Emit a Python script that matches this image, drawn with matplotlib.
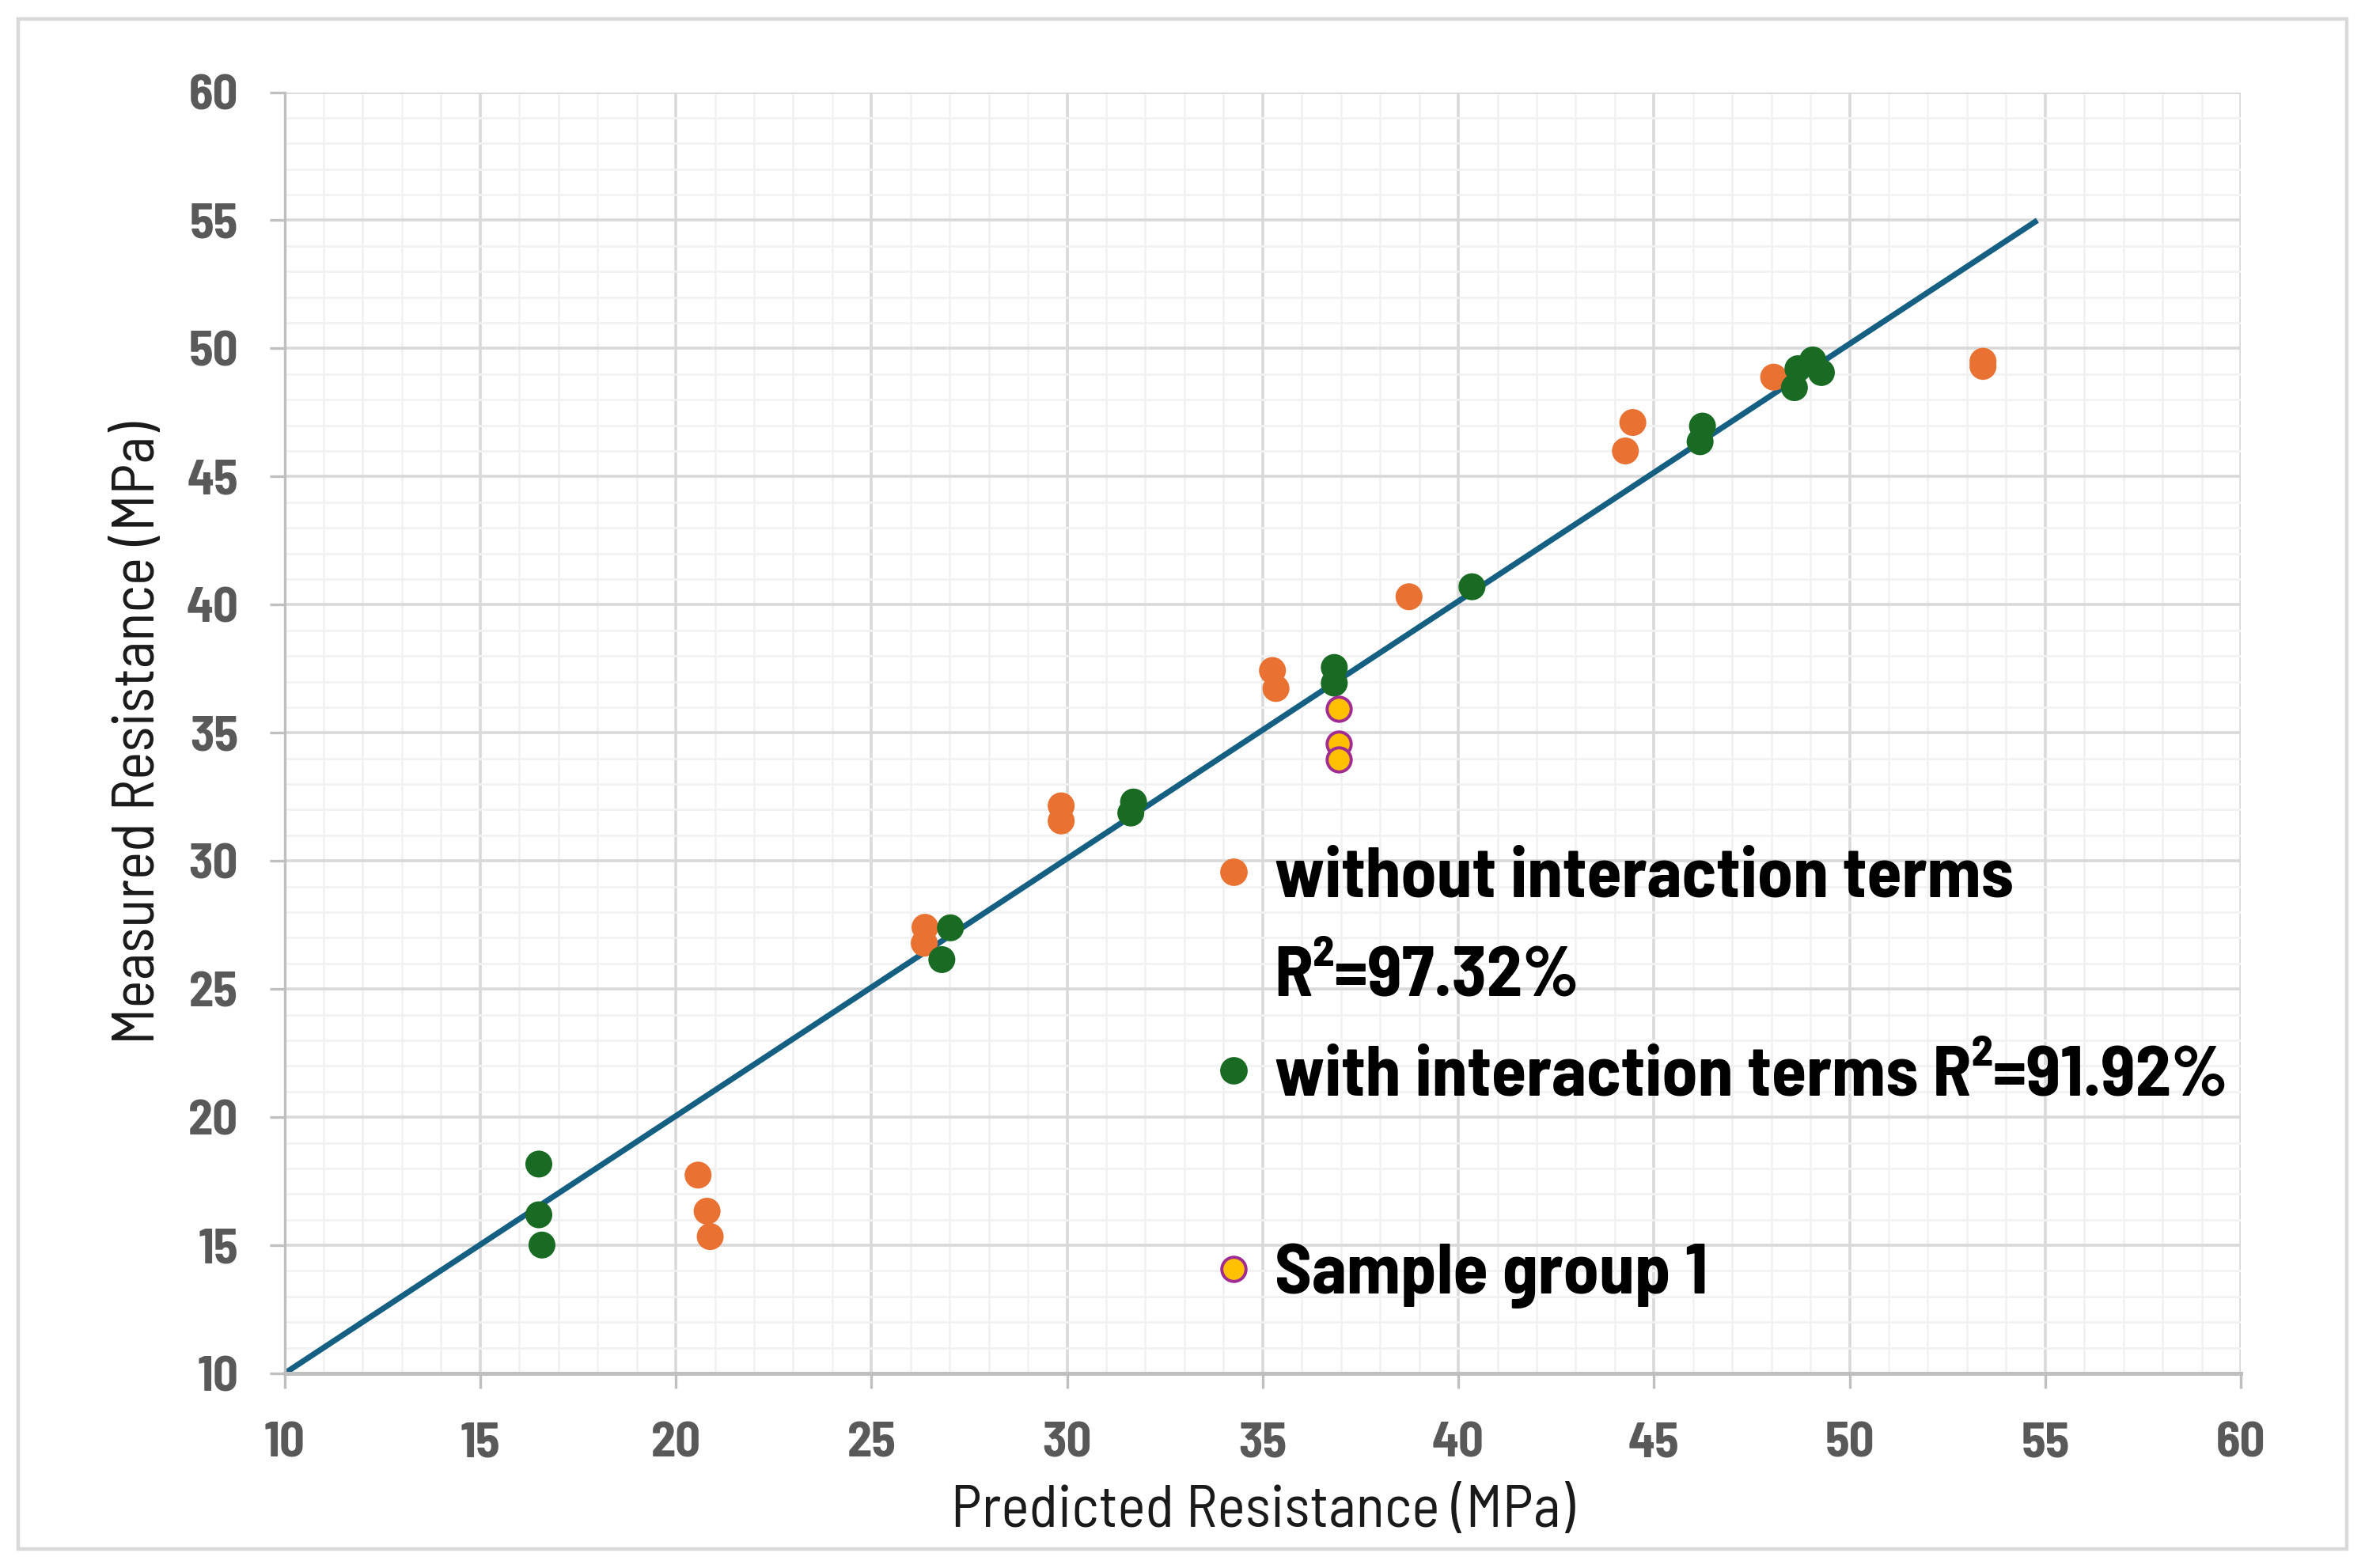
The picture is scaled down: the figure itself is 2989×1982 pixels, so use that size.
import matplotlib
matplotlib.use("Agg")
import matplotlib.pyplot as plt
from matplotlib import font_manager
from matplotlib.lines import Line2D
from matplotlib.patches import Rectangle
from matplotlib.ticker import MultipleLocator

names = {f.name for f in font_manager.fontManager.ttflist}
FAMILY = "Barlow Semi Condensed" if "Barlow Semi Condensed" in names else "Liberation Sans"

# ---- data ----
pred_without = [20.57, 20.80, 20.88, 26.37, 26.35, 29.85, 29.85, 35.25, 35.34,
                38.74, 44.27, 44.46, 48.06, 53.41, 53.41]
meas_without = [17.74, 16.33, 15.34, 27.41, 26.79, 32.15, 31.56, 37.43, 36.73,
                40.31, 46.00, 47.11, 48.88, 49.30, 49.50]

pred_with = [16.50, 16.50, 16.58, 26.80, 27.02, 31.63, 31.70, 36.83, 36.83,
             40.35, 46.18, 46.24, 48.59, 48.68, 49.06, 49.28]
meas_with = [18.17, 16.19, 15.01, 26.15, 27.39, 31.87, 32.30, 37.55, 36.94,
             40.70, 46.36, 46.97, 48.47, 49.21, 49.55, 49.06]

pred_group1 = [36.94, 36.94, 36.94]
meas_group1 = [35.93, 34.57, 33.95]

line_x = [10, 54.8]
line_y = [10, 55]

x_ticks = [10, 15, 20, 25, 30, 35, 40, 45, 50, 55, 60]
y_ticks = [10, 15, 20, 25, 30, 35, 40, 45, 50, 55, 60]

label_without = "without interaction terms"
label_without_r2 = "R²=97.32%"
label_with = "with interaction terms R²=91.92%"
label_group1 = "Sample group 1"

# ---- colours ----
C_LINE = "#156082"
C_ORANGE = "#E97132"
C_GREEN = "#196B24"
C_YELLOW = "#FFC000"
C_PURPLE = "#A02B93"

fig = plt.figure(figsize=(14.945, 9.91), dpi=200)
fig.patches.append(Rectangle((0.0077, 0.012), 0.9846, 0.976, transform=fig.transFigure,
                             fill=False, edgecolor="#d9d9d9", linewidth=1.6))
ax = fig.add_axes([0.1203, 0.1241, 0.8272, 0.8171])

ax.set_xlim(10, 60)
ax.set_ylim(10, 60)
ax.xaxis.set_minor_locator(MultipleLocator(1))
ax.yaxis.set_minor_locator(MultipleLocator(1))
ax.set_xticks(x_ticks)
ax.set_yticks(y_ticks)

ax.grid(which="minor", color="#f2f2f2", linewidth=1.0, zorder=0)
ax.grid(which="major", color="#d9d9d9", linewidth=1.3, zorder=0.5)
ax.set_axisbelow(True)

for s in ["top", "right"]:
    ax.spines[s].set_visible(False)
ax.spines["left"].set_color("#bfbfbf")
ax.spines["left"].set_linewidth(1.2)
ax.spines["bottom"].set_color("#bfbfbf")
ax.spines["bottom"].set_linewidth(1.8)

ax.tick_params(which="minor", length=0)
ax.tick_params(which="major", direction="out", length=7, width=1.2, color="#bfbfbf",
               labelsize=22.5, labelcolor="#595959")
ax.tick_params(axis="x", pad=15)
ax.tick_params(axis="y", pad=14)
for lab in ax.get_xticklabels() + ax.get_yticklabels():
    lab.set_fontfamily(FAMILY)
    lab.set_fontweight("bold")

ax.plot(line_x, line_y, color=C_LINE, linewidth=2.6, zorder=2, solid_capstyle="butt")
ax.scatter(pred_without, meas_without, s=150, color=C_ORANGE, edgecolors="none", zorder=3)
ax.scatter(pred_with, meas_with, s=150, color=C_GREEN, edgecolors="none", zorder=4)
ax.scatter(pred_group1, meas_group1, s=120, color=C_YELLOW, edgecolors=C_PURPLE,
           linewidths=1.4, zorder=5)

ax.set_xlabel("Predicted Resistance (MPa)", fontsize=27, family=FAMILY,
              color="#1a1a1a", labelpad=9)
ax.set_ylabel("Measured Resistance (MPa)", fontsize=27, family=FAMILY,
              color="#1a1a1a", labelpad=9)

handles = [
    Line2D([], [], linestyle="none", marker="o", markersize=12.5, markerfacecolor=C_ORANGE,
           markeredgecolor="none"),
    Line2D([], [], linestyle="none", marker=None),
    Line2D([], [], linestyle="none", marker="o", markersize=12.5, markerfacecolor=C_GREEN,
           markeredgecolor="none"),
    Line2D([], [], linestyle="none", marker=None),
    Line2D([], [], linestyle="none", marker="o", markersize=11, markerfacecolor=C_YELLOW,
           markeredgecolor=C_PURPLE, markeredgewidth=1.4),
]
labels = [label_without, label_without_r2, label_with, " ", label_group1]
leg = ax.legend(handles, labels, loc="upper left", bbox_to_anchor=(0.476, 0.411),
                frameon=False, handlelength=0.5, handletextpad=0.32, labelspacing=0.5,
                borderpad=0, borderaxespad=0,
                prop={"family": FAMILY, "weight": "bold", "size": 32.5})
for t in leg.get_texts():
    t.set_color("black")

fig.savefig("out.png", dpi=200)
